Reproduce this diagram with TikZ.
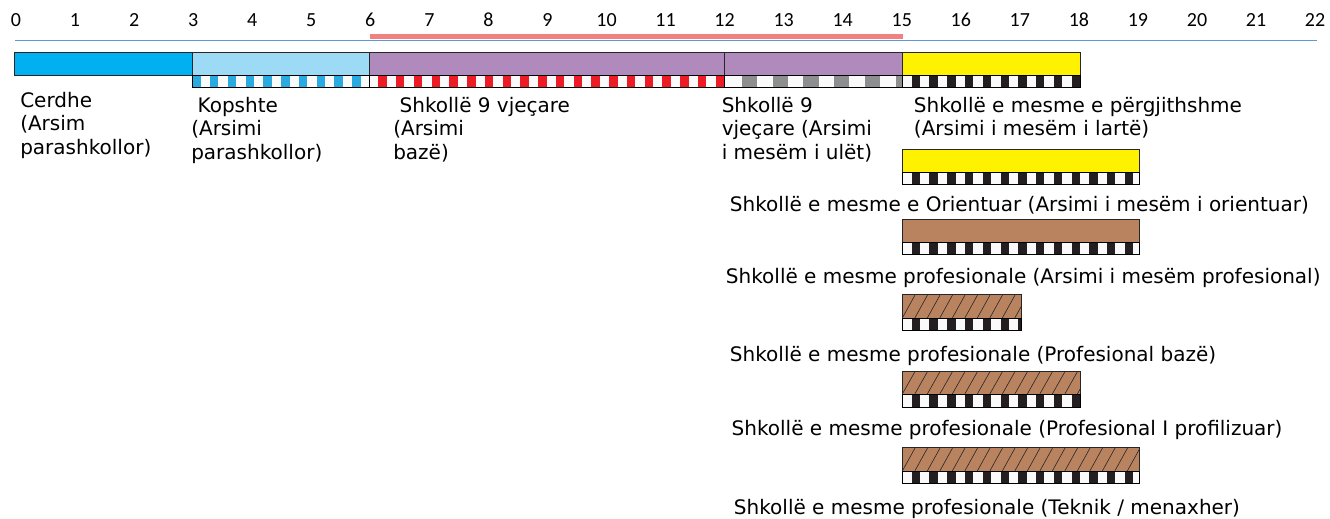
\documentclass[tikz,border=0pt]{standalone}
\usepackage{fontspec}
\setmainfont{DejaVu Sans}
\newfontfamily\numfont{Carlito}
\definecolor{cerdheblue}{RGB}{0,176,240}
\definecolor{kopblue}{RGB}{157,218,245}
\definecolor{kopstripe}{RGB}{41,170,225}
\definecolor{purplebox}{RGB}{176,137,189}
\definecolor{redstripe}{RGB}{237,28,36}
\definecolor{graystripe}{RGB}{141,142,144}
\definecolor{yellowbox}{RGB}{255,242,0}
\definecolor{brownbox}{RGB}{186,131,96}
\definecolor{blackstripe}{RGB}{35,31,32}
\definecolor{stripewhite}{RGB}{250,250,250}
\definecolor{axisblue}{RGB}{91,155,213}
\definecolor{agebar}{RGB}{241,128,128}
\tikzset{
  boxline/.style={draw=black!85, line width=0.75pt},
  stripeedge/.style={draw=black, line width=0.75pt},
  hatchline/.style={draw=black!85, line width=0.45pt},
  agenum/.style={font=\numfont\fontsize{15pt}{17pt}\selectfont, anchor=base, inner sep=0pt},
  lbl/.style={font=\fontsize{15pt}{17.5pt}\selectfont, anchor=base west, inner sep=0pt},
}
% #1 xa, #2 xb, #3 ya, #4 yb, #5 first coloured start, #6 period, #7 width, #8 colour
\newcommand{\stripeRow}[8]{%
  \begin{scope}
    \clip (#1,#3) rectangle (#2,#4);
    \fill[stripewhite] (#1,#3) rectangle (#2,#4);
    \foreach \k in {0,...,24} {\fill[#8] ({#5+\k*#6},#3) rectangle ({#5+\k*#6+#7},#4);}
  \end{scope}
  \draw[stripeedge] (#1,#3) rectangle (#2,#4);
}
% #1 xa, #2 xb, #3 ya, #4 yb
\newcommand{\hatchBox}[4]{%
  \fill[brownbox] (#1,#3) rectangle (#2,#4);
  \begin{scope}
    \clip (#1,#3) rectangle (#2,#4);
    \foreach \k in {-2,...,22} {\draw[hatchline] ({#1+\k*12.5},#4) -- ({#1+\k*12.5+13},#3);}
  \end{scope}
  \draw[boxline] (#1,#3) rectangle (#2,#4);
}
\begin{document}
\begin{tikzpicture}[x=0.75pt,y=-0.75pt]
\useasboundingbox (0,0) rectangle (1330,518);
\fill[white] (0,0) rectangle (1330,518);

% age axis
\foreach \u in {0,...,22} \node[agenum] (n\u) at ({16+59.05*\u},26.8) {\u};
\fill[agebar] (369.5,34.3) rectangle (902.7,39.3);
\draw[axisblue, line width=1pt] (15,40.7) -- (1316.7,40.7);

% top row boxes
\fill[cerdheblue] (14,52) rectangle (192,75.3);
\fill[kopblue] (192,52) rectangle (369.3,75.3);
\fill[purplebox] (369.3,52) rectangle (902.3,75.3);
\fill[yellowbox] (902.3,52) rectangle (1080,75.3);
\draw[boxline] (14,52) rectangle (192,75.3);
\draw[boxline] (192,52) rectangle (369.3,75.3);
\draw[boxline] (369.3,52) rectangle (724.4,75.3);
\draw[boxline] (724.4,52) rectangle (902.3,75.3);
\draw[boxline] (902.3,52) rectangle (1080,75.3);

% top row stripes
\stripeRow{192}{369.3}{75.3}{87.3}{192.3}{17.76}{8.4}{kopstripe}
\stripeRow{369.3}{724.4}{75.3}{87.3}{378.3}{17.76}{8.4}{redstripe}
\stripeRow{724.4}{902.3}{75.3}{87.3}{741.7}{30.8}{15.2}{graystripe}
\stripeRow{902.3}{1080}{75.3}{87.3}{911.7}{17.76}{8.4}{blackstripe}

% top labels
\node[lbl] (cerdhe) at (20,107.5) {\vtop{\hbox{Cerdhe}\hbox{(Arsim}\hbox{parashkollor)}}};
\node[lbl] (kopshte) at (191,112.5) {\vtop{\hbox{\ Kopshte}\hbox{(Arsimi}\hbox{parashkollor)}}};
\node[lbl] (baze) at (393,112.5) {\vtop{\hbox{\ Shkollë 9 vjeçare}\hbox{(Arsimi}\hbox{bazë)}}};
\node[lbl] (ulet) at (721.5,112.5) {\vtop{\hbox{Shkollë 9}\hbox{vjeçare (Arsimi}\hbox{i mesëm i ulët)}}};
\node[lbl] (larte) at (913.7,112.5) {\vtop{\hbox{Shkollë e mesme e përgjithshme}\hbox{(Arsimi i mesëm i lartë)}}};

% orientuar
\fill[yellowbox] (902.3,149) rectangle (1139,172);
\draw[boxline] (902.3,149) rectangle (1139,172);
\stripeRow{902.3}{1139}{172}{184.5}{911.7}{17.76}{8.4}{blackstripe}
\node[lbl] (orient) at (729.7,211.5) {Shkollë e mesme e Orientuar (Arsimi i mesëm i orientuar)};

% profesional
\fill[brownbox] (902.3,219) rectangle (1139,242);
\draw[boxline] (902.3,219) rectangle (1139,242);
\stripeRow{902.3}{1139}{242}{254.5}{911.7}{17.76}{8.4}{blackstripe}
\node[lbl] (prof) at (725.7,283.5) {Shkollë e mesme profesionale (Arsimi i mesëm profesional)};

% profesional baze
\hatchBox{902.3}{1021.5}{294.5}{318}
\stripeRow{902.3}{1021.5}{318}{330.5}{911.7}{17.76}{8.4}{blackstripe}
\node[lbl] (profbaze) at (729.7,361.5) {Shkollë e mesme profesionale (Profesional bazë)};

% profilizuar
\hatchBox{902.3}{1080}{371}{394}
\stripeRow{902.3}{1080}{394}{407}{911.7}{17.76}{8.4}{blackstripe}
\node[lbl] (profil) at (731.4,435.5) {Shkollë e mesme profesionale (Profesional I profilizuar)};

% teknik
\hatchBox{902.3}{1139}{447.5}{471}
\stripeRow{902.3}{1139}{471}{483.5}{911.7}{17.76}{8.4}{blackstripe}
\node[lbl] (teknik) at (733.7,514) {Shkollë e mesme profesionale (Teknik / menaxher)};
\end{tikzpicture}
\end{document}
